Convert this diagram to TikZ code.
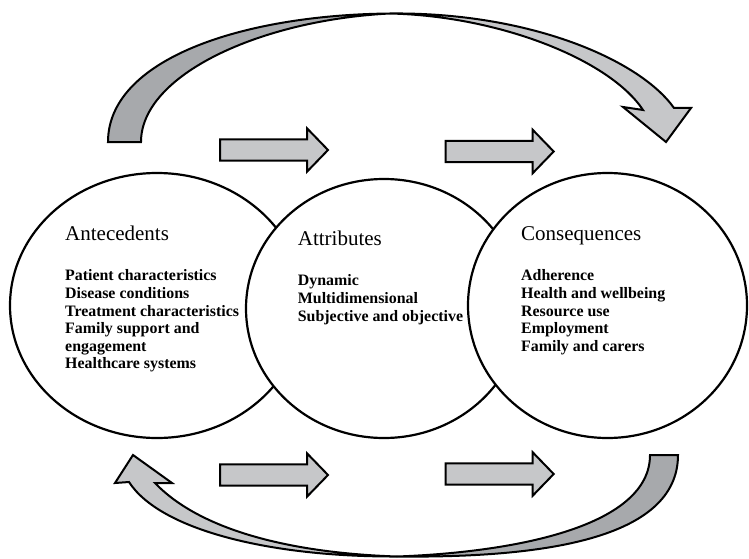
\documentclass[tikz,border=0pt]{standalone}
\usepackage{fontspec}
\setmainfont{Liberation Serif}
\usetikzlibrary{shapes.geometric}
\definecolor{lightg}{HTML}{C6C7C9}
\definecolor{darkg}{HTML}{A7A9AC}
\begin{document}
\begin{tikzpicture}[x=1pt,y=-1pt,
  circ/.style={draw=black, line width=2.2pt, fill=white, ellipse, inner sep=0pt},
  arrowline/.style={draw=black, line width=2pt, line join=miter, miter limit=10},
  title/.style={font=\fontsize{21}{25}\selectfont, anchor=base west, inner sep=0pt},
  item/.style={font=\fontsize{15.9}{17.6}\selectfont\bfseries, anchor=base west, inner sep=0pt},
  blockarr/.pic={\draw[arrowline, fill=lightg] (0,-10.7) -- (87,-10.7) -- (87,-21.7) -- (108,0) -- (87,21.7) -- (87,10.7) -- (0,10.7) -- cycle;}
]
\useasboundingbox (0,0) rectangle (749,559);

% top curved arrow
\draw[arrowline, fill=darkg] (108,142) .. controls (108,60) and (240,15) .. (390,13.5)
   .. controls (260,20) and (141,75) .. (141,142) -- cycle;
\draw[arrowline, fill=lightg] (390,13.5) .. controls (530,12) and (640,60) .. (674,108)
   -- (691,108) -- (666,142) -- (623,107) -- (643,110)
   .. controls (610,60) and (500,16) .. (390,13.5) -- cycle;

% bottom curved arrow
\draw[arrowline, fill=darkg] (678,455) .. controls (678,540) and (540,558) .. (397,556.5)
   .. controls (520,552) and (650,525) .. (650,455) -- cycle;
\draw[arrowline, fill=lightg] (397,556.5) .. controls (270,557) and (160,530) .. (129,482)
   -- (115,483) -- (133,455) -- (172,483) -- (155,483)
   .. controls (200,530) and (290,553) .. (397,556.5) -- cycle;

% straight block arrows
\pic (ta1) at (220,150) {blockarr};
\pic (ta2) at (445.7,151.5) {blockarr};
\pic (ba1) at (220,475) {blockarr};
\pic (ba2) at (445.7,474) {blockarr};

% circles
\node[circ, minimum width=294pt, minimum height=265pt] (ante) at (157,305.5) {};
\node[circ, minimum width=276pt, minimum height=259pt] (attr) at (384,308.5) {};
\node[circ, minimum width=279pt, minimum height=265pt] (cons) at (607.5,305.5) {};

% texts
\node[title] (antet) at (65,240.7) {Antecedents};
\node[item] (a1) at (65,280.7) {Patient characteristics};
\node[item] (a2) at (65,298.3) {Disease conditions};
\node[item] (a3) at (65,316) {Treatment characteristics};
\node[item] (a4) at (65,333.7) {Family support and};
\node[item] (a5) at (65,351.3) {engagement};
\node[item] (a6) at (65,368.9) {Healthcare systems};

\node[title] (attrt) at (297.7,245) {Attributes};
\node[item] (b1) at (297.7,285.7) {Dynamic};
\node[item] (b2) at (297.7,303.3) {Multidimensional};
\node[item] (b3) at (297.7,321) {Subjective and objective};

\node[title] (const) at (521,240) {Consequences};
\node[item] (c1) at (521,280.7) {Adherence};
\node[item] (c2) at (521,298.3) {Health and wellbeing};
\node[item] (c3) at (521,316) {Resource use};
\node[item] (c4) at (521,333.7) {Employment};
\node[item] (c5) at (521,351.3) {Family and carers};
\end{tikzpicture}
\end{document}
